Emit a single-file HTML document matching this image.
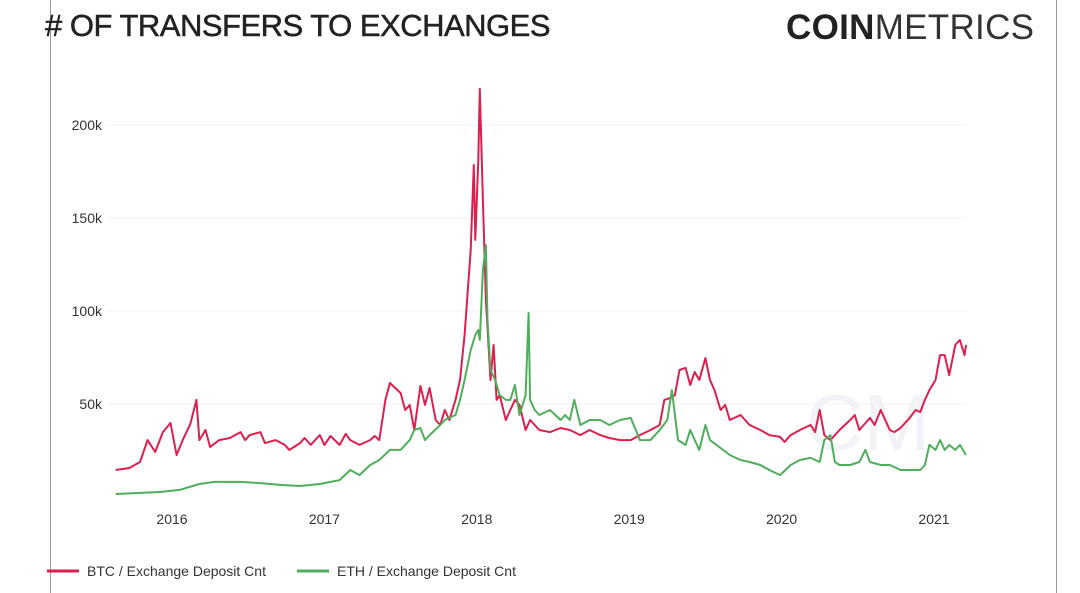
<!DOCTYPE html>
<html><head><meta charset="utf-8"><style>
body{margin:0;width:1080px;height:593px;background:#fff;overflow:hidden;font-family:"Liberation Sans",sans-serif;position:relative}
.bl{position:absolute;top:0;bottom:0;width:1px;background:#999}
#title{position:absolute;left:45px;top:8px;font-size:31px;color:#222;letter-spacing:-0.5px;-webkit-text-stroke:0.5px #222}
#logo{position:absolute;left:786px;top:8px;font-size:35px;color:#222;letter-spacing:0.3px}
</style></head><body>
<div class="bl" style="left:50px"></div>
<div class="bl" style="left:1056px"></div>
<div id="title"># OF TRANSFERS TO EXCHANGES</div>
<div id="logo"><b>COIN</b><span style="font-weight:300;color:#333">METRICS</span></div>
<svg id="chart" width="1080" height="593" style="position:absolute;left:0;top:0"></svg>
<script>
const yTicks=[50000,100000,150000,200000];
const yTickLabels=["50k","100k","150k","200k"];
const xTicks=[2016,2017,2018,2019,2020,2021];
const btcDates=[2015.63,2015.72,2015.79,2015.84,2015.89,2015.94,2015.99,2016.03,2016.07,2016.12,2016.16,2016.18,2016.22,2016.25,2016.31,2016.38,2016.45,2016.48,2016.51,2016.58,2016.61,2016.68,2016.74,2016.77,2016.84,2016.87,2016.91,2016.97,2017.00,2017.04,2017.10,2017.14,2017.17,2017.23,2017.30,2017.33,2017.36,2017.40,2017.43,2017.50,2017.53,2017.56,2017.59,2017.63,2017.66,2017.69,2017.73,2017.76,2017.79,2017.82,2017.86,2017.89,2017.92,2017.96,2017.98,2017.99,2018.01,2018.02,2018.04,2018.06,2018.09,2018.11,2018.13,2018.15,2018.19,2018.22,2018.25,2018.28,2018.32,2018.35,2018.41,2018.48,2018.55,2018.61,2018.68,2018.74,2018.81,2018.87,2018.94,2019.01,2019.07,2019.14,2019.20,2019.23,2019.27,2019.30,2019.33,2019.37,2019.40,2019.43,2019.46,2019.50,2019.53,2019.56,2019.60,2019.63,2019.66,2019.73,2019.79,2019.86,2019.92,2019.99,2020.02,2020.06,2020.12,2020.19,2020.22,2020.25,2020.28,2020.32,2020.38,2020.45,2020.48,2020.51,2020.58,2020.61,2020.65,2020.71,2020.74,2020.78,2020.84,2020.88,2020.91,2020.94,2020.97,2021.01,2021.04,2021.07,2021.10,2021.14,2021.17,2021.20,2021.21];
const btcValues=[14.5,15.6,18.8,30.6,24.2,34.9,39.8,22.6,30.6,39.2,52.2,30.6,36.0,26.9,30.6,31.7,34.9,30.6,33.3,34.9,29.0,30.6,28.0,25.3,29.0,31.7,28.0,33.3,28.0,32.8,28.0,33.9,30.6,28.0,30.6,32.8,30.6,52.2,61.3,55.9,46.8,49.5,36.0,59.7,49.5,58.6,41.4,38.7,46.8,41.4,52.2,62.9,87.1,132.8,178.5,138.2,181.2,219.4,159.7,105.9,62.9,81.7,52.2,54.8,41.4,46.8,52.2,49.5,36.0,41.4,36,34.9,37.1,36,33.3,36,33.3,31.7,30.6,30.6,33.3,36,38.7,52.2,53.2,54.8,68.3,69.4,60.2,67.2,62.9,74.7,62.9,57.5,46.8,49.5,41.4,44.1,38.7,36,33.3,32.3,29.6,33.3,36,38.7,34.9,46.8,33.3,30.6,36,41.4,44.1,36,42.5,38.7,46.8,36,34.9,37.1,42.5,46.8,45.7,52.2,57.5,62.9,76.3,76.3,65.6,81.7,84.4,76.3,81.7];
const ethDates=[2015.63,2015.79,2015.92,2016.05,2016.18,2016.28,2016.45,2016.58,2016.71,2016.84,2016.97,2017.10,2017.17,2017.23,2017.30,2017.36,2017.43,2017.50,2017.56,2017.59,2017.63,2017.66,2017.69,2017.76,2017.79,2017.86,2017.89,2017.92,2017.96,2017.99,2018.01,2018.02,2018.04,2018.06,2018.07,2018.09,2018.12,2018.15,2018.19,2018.22,2018.25,2018.28,2018.32,2018.34,2018.35,2018.38,2018.41,2018.48,2018.55,2018.58,2018.61,2018.64,2018.68,2018.74,2018.81,2018.87,2018.94,2019.01,2019.07,2019.14,2019.20,2019.25,2019.28,2019.32,2019.37,2019.40,2019.46,2019.50,2019.53,2019.60,2019.66,2019.73,2019.79,2019.86,2019.92,2019.99,2020.06,2020.12,2020.19,2020.25,2020.28,2020.32,2020.35,2020.38,2020.45,2020.51,2020.55,2020.58,2020.65,2020.71,2020.78,2020.84,2020.91,2020.94,2020.97,2021.01,2021.04,2021.07,2021.10,2021.14,2021.17,2021.21];
const ethValues=[1.6,2.2,2.7,3.8,7.0,8.1,8.1,7.5,6.5,5.9,7.0,9.1,14.5,11.8,17.2,19.9,25.3,25.3,30.6,36,37.1,30.6,33.3,38.7,41.4,44.1,52.2,62.9,79,87.1,89.8,84.4,122,135.5,95.2,68.3,62.9,54.8,52.2,52.2,60.2,44.1,54.8,98.9,52.2,46.8,44.1,46.8,41.4,44.1,41.4,52.2,38.7,41.4,41.4,38.7,41.4,42.5,30.6,30.6,36,41.4,57.5,30.6,28,36,25.3,38.7,30.6,26.3,22.6,19.9,18.8,17.2,14.5,11.8,17.2,19.9,21,18.8,30.6,33.3,18.8,17.2,17.2,18.8,25.3,18.8,17.2,17.2,14.5,14.5,14.5,17.2,28,25.3,30.6,25.3,28,25.3,28,22.6];

const NS="http://www.w3.org/2000/svg";
const svg=document.getElementById('chart');
const xs=d=>172+(d-2016)*152.4;
const ys=v=>497-v/50000*93;
function mk(t,a){const e=document.createElementNS(NS,t);for(const k in a)e.setAttribute(k,a[k]);svg.appendChild(e);return e;}
yTicks.forEach((v,i)=>{
  const g=mk('line',{x1:107,x2:966,y1:ys(v),y2:ys(v),stroke:'#f0f0f0','stroke-width':1});
  
  
  const t=mk('text',{x:102,y:ys(v)+5,'text-anchor':'end','font-size':14,fill:'#333','font-family':'Liberation Sans, sans-serif'});
  t.textContent=yTickLabels[i];
  
  
});
xTicks.forEach(v=>{
  const t=mk('text',{x:xs(v),y:524,'text-anchor':'middle','font-size':14,fill:'#333','font-family':'Liberation Sans, sans-serif'});
  t.textContent=v;
  
  
});
const wm=mk('text',{x:868,y:450,'text-anchor':'middle','font-size':80,fill:'#f1f3f7','font-family':'Liberation Sans, sans-serif'});
wm.textContent='CM';


function line(d,v,c,name){
  const p=mk('path',{d:d.map((dd,i)=>(i?'L':'M')+xs(dd).toFixed(1)+','+ys(v[i]*1000).toFixed(1)).join(''),fill:'none',stroke:c,'stroke-width':2,'stroke-linejoin':'round'});
  
  
}
line(btcDates,btcValues,'#dc1f4e','btc-line');
line(ethDates,ethValues,'#4fae5c','eth-line');
[['#dc1f4e','BTC / Exchange Deposit Cnt',47],['#4fae5c','ETH / Exchange Deposit Cnt',297]].forEach(([c,l,x],i)=>{
  const s=mk('line',{x1:x,x2:x+32,y1:571,y2:571,stroke:c,'stroke-width':3});
  
  
  const t=mk('text',{x:x+40,y:576,'font-size':14,fill:'#333','font-family':'Liberation Sans, sans-serif'});
  t.textContent=l;
  
  
});
</script>
</body></html>
